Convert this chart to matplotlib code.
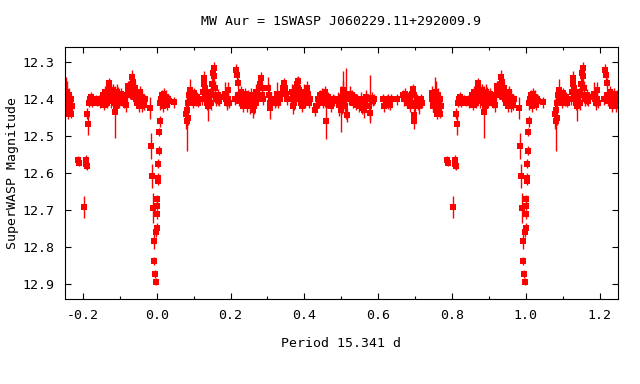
import matplotlib
matplotlib.use("Agg")
import matplotlib.pyplot as plt
import numpy as np
from matplotlib.ticker import MultipleLocator

# folded SuperWASP photometry, phase in [-0.25, 0.75)
phase = [
    -0.249, -0.247, -0.246, -0.245, -0.244, -0.243, -0.242, -0.241, -0.240, -0.239,
    -0.238, -0.237, -0.236, -0.235, -0.234, -0.233, -0.232, -0.231,
    -0.213, -0.212, -0.196, -0.192, -0.191, -0.190, -0.188, -0.187,
    -0.184, -0.182, -0.180, -0.178, -0.176, -0.174, -0.170, -0.166, -0.163, -0.160,
    -0.156, -0.153,
    -0.148, -0.146, -0.144, -0.142, -0.140, -0.138, -0.136, -0.134, -0.132, -0.130,
    -0.129, -0.127, -0.125, -0.123, -0.121, -0.119, -0.117, -0.115, -0.113, -0.111,
    -0.109, -0.107, -0.105, -0.103, -0.101, -0.099, -0.097, -0.095, -0.092, -0.090,
    -0.087, -0.084, -0.081, -0.079, -0.077, -0.074, -0.072, -0.070, -0.068, -0.066,
    -0.065, -0.063, -0.061, -0.059, -0.057, -0.055, -0.053, -0.051, -0.049, -0.047,
    -0.045, -0.043, -0.041, -0.039, -0.037, -0.034, -0.031, -0.019,
    -0.016, -0.014, -0.010, -0.007, -0.007, -0.005, -0.002, -0.002, 0.001, 0.001,
    0.001, 0.001, 0.003, 0.004, 0.004, 0.006, 0.006, 0.008,
    0.010, 0.012, 0.014, 0.016, 0.018, 0.020, 0.022, 0.024, 0.026, 0.028,
    0.030, 0.032, 0.047,
    0.080, 0.082, 0.083, 0.084, 0.086, 0.088, 0.090, 0.092, 0.094, 0.096,
    0.098, 0.100, 0.102, 0.104, 0.106, 0.108, 0.110, 0.112,
    0.122, 0.125, 0.127, 0.129, 0.131, 0.133, 0.135, 0.137, 0.138, 0.140,
    0.142, 0.144, 0.146, 0.148, 0.150, 0.152, 0.154, 0.155, 0.157, 0.159,
    0.161, 0.163, 0.165, 0.167, 0.169, 0.171,
    0.186, 0.188, 0.190, 0.192, 0.194, 0.196, 0.213, 0.215, 0.217, 0.219,
    0.221, 0.223, 0.227, 0.229, 0.231, 0.233, 0.235, 0.237, 0.239, 0.241,
    0.243, 0.245, 0.247, 0.249,
    0.252, 0.254, 0.256, 0.258, 0.260, 0.262, 0.264, 0.266, 0.268, 0.270,
    0.272, 0.275, 0.278, 0.280, 0.282, 0.284, 0.286, 0.288,
    0.302, 0.304, 0.306, 0.308, 0.310,
    0.320, 0.323, 0.326, 0.329, 0.332, 0.335, 0.338, 0.342, 0.345, 0.347,
    0.349, 0.352,
    0.363, 0.366, 0.368, 0.370, 0.372, 0.374, 0.376, 0.378, 0.380, 0.382,
    0.384, 0.386, 0.388, 0.390, 0.392, 0.394, 0.396, 0.398, 0.400, 0.402,
    0.404, 0.406, 0.408, 0.410, 0.412, 0.414,
    0.428, 0.432, 0.436, 0.439, 0.442, 0.445, 0.448, 0.450, 0.452, 0.455,
    0.457, 0.459, 0.462, 0.465, 0.468, 0.471, 0.474, 0.477, 0.480,
    0.492, 0.495, 0.498, 0.500, 0.502, 0.504, 0.506, 0.508, 0.510, 0.512,
    0.515, 0.520, 0.523, 0.526, 0.529, 0.532, 0.535, 0.538, 0.541, 0.544,
    0.547, 0.550, 0.553, 0.556, 0.559, 0.562, 0.565, 0.568, 0.571, 0.574,
    0.577, 0.579, 0.582, 0.585, 0.588,
    0.614, 0.617, 0.620, 0.623, 0.626, 0.628, 0.631, 0.634, 0.652,
    0.668, 0.671, 0.674, 0.677, 0.680, 0.683, 0.686, 0.689, 0.692, 0.694,
    0.696, 0.697, 0.698, 0.700, 0.703, 0.706, 0.709, 0.712, 0.715, 0.718,
    0.745, 0.747, 0.748, 0.749,
]

mag = [
    12.40, 12.42, 12.39, 12.41, 12.43, 12.38, 12.40, 12.42, 12.44, 12.41,
    12.39, 12.43, 12.40, 12.42, 12.41, 12.44, 12.40, 12.42,
    12.565, 12.572, 12.692, 12.565, 12.575, 12.58, 12.44, 12.468,
    12.41, 12.40, 12.405, 12.395, 12.41, 12.40, 12.405, 12.40, 12.41, 12.405,
    12.40, 12.41,
    12.40, 12.39, 12.415, 12.405, 12.38, 12.395, 12.41, 12.385, 12.40, 12.357,
    12.37, 12.39, 12.405, 12.38, 12.395, 12.375, 12.41, 12.39, 12.434, 12.42,
    12.38, 12.40, 12.385, 12.41, 12.39, 12.40, 12.385, 12.405, 12.395, 12.41,
    12.40, 12.415, 12.39, 12.38, 12.365, 12.37, 12.385, 12.375, 12.36, 12.339,
    12.355, 12.38, 12.395, 12.37, 12.40, 12.385, 12.41, 12.39, 12.42, 12.40,
    12.38, 12.41, 12.395, 12.42, 12.40, 12.415, 12.40, 12.425,
    12.526, 12.608, 12.695, 12.784, 12.837, 12.872, 12.893, 12.76, 12.67, 12.688,
    12.711, 12.747, 12.574, 12.613, 12.62, 12.539, 12.489, 12.46,
    12.41, 12.40, 12.39, 12.42, 12.40, 12.385, 12.41, 12.40, 12.395, 12.415,
    12.40, 12.405, 12.408,
    12.44, 12.43, 12.46, 12.45, 12.41, 12.39, 12.375, 12.40, 12.385, 12.395,
    12.41, 12.39, 12.384, 12.40, 12.405, 12.395, 12.40, 12.41,
    12.40, 12.38, 12.36, 12.343, 12.37, 12.39, 12.41, 12.40, 12.42, 12.395,
    12.405, 12.39, 12.41, 12.38, 12.36, 12.33, 12.316, 12.337, 12.37, 12.39,
    12.40, 12.395, 12.388, 12.40, 12.405, 12.395,
    12.385, 12.40, 12.41, 12.375, 12.40, 12.41, 12.40, 12.321, 12.335, 12.357,
    12.39, 12.405, 12.40, 12.38, 12.41, 12.395, 12.42, 12.40, 12.385, 12.41,
    12.40, 12.42, 12.395, 12.405,
    12.40, 12.42, 12.39, 12.41, 12.43, 12.40, 12.42, 12.395, 12.41, 12.38,
    12.40, 12.39, 12.37, 12.36, 12.343, 12.37, 12.39, 12.40,
    12.37, 12.39, 12.41, 12.425, 12.40,
    12.41, 12.40, 12.385, 12.41, 12.395, 12.40, 12.385, 12.37, 12.357, 12.37,
    12.385, 12.40,
    12.40, 12.38, 12.42, 12.39, 12.41, 12.37, 12.40, 12.385, 12.36, 12.37,
    12.352, 12.375, 12.39, 12.41, 12.40, 12.42, 12.395, 12.38, 12.40, 12.41,
    12.39, 12.37, 12.40, 12.385, 12.41, 12.40,
    12.43, 12.42, 12.40, 12.41, 12.39, 12.40, 12.385, 12.41, 12.40, 12.402,
    12.38, 12.459, 12.41, 12.395, 12.40, 12.42, 12.41, 12.40, 12.405,
    12.40, 12.415, 12.43, 12.395, 12.41, 12.375, 12.39, 12.40, 12.42, 12.385,
    12.443, 12.40, 12.385, 12.40, 12.39, 12.41, 12.395, 12.40, 12.415, 12.40,
    12.42, 12.41, 12.40, 12.425, 12.415, 12.43, 12.41, 12.395, 12.40, 12.42,
    12.437, 12.40, 12.397, 12.405, 12.40,
    12.40, 12.42, 12.41, 12.405, 12.40, 12.411, 12.415, 12.40, 12.40,
    12.39, 12.40, 12.385, 12.41, 12.395, 12.40, 12.42, 12.41, 12.385, 12.373,
    12.39, 12.443, 12.46, 12.42, 12.41, 12.40, 12.415, 12.42, 12.40, 12.41,
    12.40, 12.384, 12.41, 12.42,
]

err = [
    0.02, 0.015, 0.05, 0.018, 0.015, 0.03, 0.015, 0.02, 0.015, 0.015,
    0.02, 0.012, 0.015, 0.02, 0.015, 0.012, 0.015, 0.012,
    0.012, 0.01, 0.03, 0.015, 0.015, 0.012, 0.015, 0.03,
    0.012, 0.015, 0.012, 0.015, 0.012, 0.012, 0.01, 0.012, 0.01, 0.01,
    0.012, 0.015,
    0.015, 0.015, 0.015, 0.012, 0.015, 0.015, 0.015, 0.015, 0.02, 0.015,
    0.02, 0.015, 0.018, 0.02, 0.02, 0.015, 0.02, 0.02, 0.07, 0.02,
    0.02, 0.015, 0.018, 0.015, 0.015, 0.015, 0.015, 0.015, 0.015, 0.015,
    0.015, 0.02, 0.015, 0.015, 0.015, 0.02, 0.015, 0.015, 0.02, 0.018,
    0.015, 0.02, 0.015, 0.02, 0.015, 0.02, 0.015, 0.015, 0.015, 0.015,
    0.015, 0.015, 0.02, 0.015, 0.015, 0.015, 0.012, 0.03,
    0.035, 0.033, 0.04, 0.02, 0.01, 0.01, 0.01, 0.012, 0.012, 0.012,
    0.012, 0.012, 0.012, 0.012, 0.012, 0.012, 0.012, 0.015,
    0.02, 0.015, 0.015, 0.015, 0.015, 0.015, 0.015, 0.015, 0.02, 0.015,
    0.015, 0.015, 0.015,
    0.04, 0.02, 0.08, 0.02, 0.02, 0.02, 0.03, 0.015, 0.015, 0.015,
    0.015, 0.015, 0.015, 0.015, 0.015, 0.015, 0.012, 0.012,
    0.015, 0.02, 0.02, 0.02, 0.02, 0.02, 0.02, 0.025, 0.04, 0.02,
    0.015, 0.02, 0.02, 0.02, 0.02, 0.02, 0.015, 0.015, 0.02, 0.02,
    0.02, 0.015, 0.015, 0.015, 0.015, 0.015,
    0.03, 0.02, 0.02, 0.02, 0.02, 0.015, 0.015, 0.015, 0.015, 0.015,
    0.015, 0.015, 0.015, 0.015, 0.015, 0.015, 0.015, 0.015, 0.015, 0.015,
    0.015, 0.015, 0.02, 0.015,
    0.02, 0.02, 0.02, 0.02, 0.02, 0.02, 0.02, 0.02, 0.015, 0.02,
    0.015, 0.015, 0.02, 0.015, 0.015, 0.015, 0.015, 0.015,
    0.03, 0.03, 0.02, 0.03, 0.02,
    0.015, 0.02, 0.03, 0.015, 0.015, 0.015, 0.015, 0.015, 0.015, 0.02,
    0.015, 0.015,
    0.02, 0.02, 0.02, 0.015, 0.02, 0.02, 0.015, 0.015, 0.02, 0.015,
    0.015, 0.02, 0.02, 0.015, 0.015, 0.015, 0.015, 0.02, 0.015, 0.015,
    0.015, 0.02, 0.015, 0.02, 0.015, 0.015,
    0.015, 0.012, 0.015, 0.015, 0.015, 0.012, 0.015, 0.015, 0.015, 0.02,
    0.015, 0.05, 0.015, 0.015, 0.015, 0.015, 0.015, 0.015, 0.015,
    0.02, 0.03, 0.06, 0.03, 0.03, 0.05, 0.04, 0.02, 0.02, 0.07,
    0.02, 0.015, 0.02, 0.015, 0.015, 0.015, 0.015, 0.015, 0.015, 0.015,
    0.015, 0.015, 0.02, 0.015, 0.02, 0.02, 0.015, 0.02, 0.015, 0.015,
    0.02, 0.065, 0.015, 0.015, 0.015,
    0.015, 0.015, 0.015, 0.015, 0.015, 0.015, 0.015, 0.015, 0.015,
    0.015, 0.02, 0.015, 0.015, 0.015, 0.015, 0.015, 0.015, 0.02, 0.015,
    0.015, 0.02, 0.02, 0.015, 0.015, 0.015, 0.015, 0.02, 0.015, 0.015,
    0.015, 0.02, 0.015, 0.015,
]

title = "MW Aur = 1SWASP J060229.11+292009.9"
xlabel = "Period 15.341 d"
ylabel = "SuperWASP Magnitude"

phase = np.array(phase)
mag = np.array(mag)
err = np.array(err)

# second cycle: repeat the first quarter after phase 1
wrap = phase <= 0.25
px = np.concatenate([phase, phase[wrap] + 1.0])
py = np.concatenate([mag, mag[wrap]])
pe = np.concatenate([err, err[wrap]])

plt.rcParams['font.family'] = ['DejaVu Sans Mono']
plt.rcParams['font.size'] = 9.5

fig = plt.figure(figsize=(6.4, 3.84), dpi=100)
ax = fig.add_axes([0.1008, 0.2214, 0.8648, 0.6555])

ax.errorbar(px, py, yerr=pe, fmt='s', color='#ff0000', ecolor='#ff0000',
            markersize=5, markeredgewidth=0, elinewidth=1.0,
            capsize=2.8, capthick=1.0)

ax.set_xlim(-0.25, 1.25)
ax.set_ylim(12.94, 12.26)
ax.xaxis.set_major_locator(MultipleLocator(0.2))
ax.xaxis.set_minor_locator(MultipleLocator(0.1))
ax.yaxis.set_major_locator(MultipleLocator(0.1))
ax.xaxis.set_major_formatter(plt.FuncFormatter(lambda v, p: "%.1f" % v))
ax.yaxis.set_major_formatter(plt.FuncFormatter(lambda v, p: "%.1f" % v))
ax.tick_params(which='both', direction='in', top=True, right=True, width=0.8)
ax.tick_params(which='major', length=4, pad=7)
ax.tick_params(which='minor', length=2.5)
for s in ax.spines.values():
    s.set_linewidth(0.8)

ax.set_title(title, fontsize=9.5, pad=16)
ax.set_xlabel(xlabel, labelpad=11)
ax.set_ylabel(ylabel, labelpad=3)

fig.savefig("out.png", dpi=100)
